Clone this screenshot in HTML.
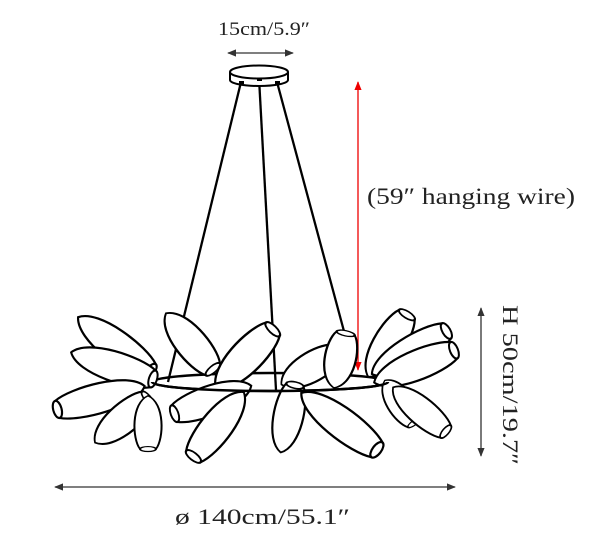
<!DOCTYPE html>
<html><head><style>
html,body{margin:0;padding:0;background:#fff;}
svg{display:block;}
text{font-family:"Liberation Serif",serif;fill:#222;}
</style></head><body>
<svg width="600" height="539" viewBox="0 0 600 539" xmlns="http://www.w3.org/2000/svg">
<defs>
<marker id="ab" viewBox="0 0 10 10" refX="9" refY="5" markerWidth="7" markerHeight="7" orient="auto-start-reverse"><path d="M0,1 L10,5 L0,9 Z" fill="#333"/></marker>
<marker id="ar" viewBox="0 0 10 10" refX="9" refY="5" markerWidth="7" markerHeight="7" orient="auto-start-reverse"><path d="M0,1 L10,5 L0,9 Z" fill="#e00"/></marker>
<g id="leaf" fill="#fff" stroke="#000" stroke-width="2">
<path d="M-44,0 C-32,-17 25,-16 42,-8 L42,8 C25,16 -32,17 -44,0 Z"/>
<ellipse cx="42" cy="0" rx="4" ry="8"/>
</g>
</defs>
<text x="218" y="35" font-size="19" textLength="92" lengthAdjust="spacingAndGlyphs">15cm/5.9″</text>
<line x1="228" y1="53" x2="293" y2="53" stroke="#333" stroke-width="1.3" marker-start="url(#ab)" marker-end="url(#ab)"/>
<g stroke="#000" stroke-width="2.3" fill="none">
<line x1="241" y1="82" x2="168" y2="382"/>
<line x1="259" y1="78" x2="276" y2="390"/>
<line x1="277" y1="82" x2="345" y2="335"/>
</g>
<g stroke="#000" stroke-width="2" fill="#fff">
<path d="M230,72 L230,80 A29,6 0 0 0 288,80 L288,72"/>
<ellipse cx="259" cy="72" rx="29" ry="6.5"/>
</g>
<g fill="#000"><rect x="239" y="81" width="5" height="3"/><rect x="257" y="78" width="5" height="3"/><rect x="275" y="81" width="5" height="3"/></g>
<line x1="358" y1="82" x2="358" y2="370" stroke="#e00" stroke-width="1.3" marker-start="url(#ar)" marker-end="url(#ar)"/>
<text x="367" y="204" font-size="23" textLength="208" lengthAdjust="spacingAndGlyphs">(59″ hanging wire)</text>
<ellipse cx="270" cy="382" rx="118" ry="9" fill="none" stroke="#000" stroke-width="2.5"/>
<use href="#leaf" transform="translate(115,345) rotate(37) scale(1.05,1.15)"/>
<use href="#leaf" transform="translate(113,366) rotate(18) scale(1,1.1)"/>
<use href="#leaf" transform="translate(190,342) rotate(50) scale(0.85,1.15)"/>
<use href="#leaf" transform="translate(310,368) rotate(-30) scale(0.75,1.1)"/>
<use href="#leaf" transform="translate(388,345) rotate(-58) scale(0.85,1.15)"/>
<use href="#leaf" transform="translate(410,352) rotate(-30) scale(1,1.1)"/>
<use href="#leaf" transform="translate(415,366) rotate(-22) scale(1,1.1)"/>
<use href="#leaf" transform="translate(100,398) rotate(165) scale(1.05,1.1)"/>
<use href="#leaf" transform="translate(122,420) rotate(-40) scale(0.8,1.1)"/>
<use href="#leaf" transform="translate(148,423) rotate(90) scale(0.62,1)"/>
<use href="#leaf" transform="translate(245,358) rotate(-46) scale(0.95,1.2)"/>
<use href="#leaf" transform="translate(212,400) rotate(160) scale(0.95,1.1)"/>
<use href="#leaf" transform="translate(218,425) rotate(128) scale(0.95,1.15)"/>
<use href="#leaf" transform="translate(288,418) rotate(-78) scale(0.8,1.1)"/>
<use href="#leaf" transform="translate(340,422) rotate(37) scale(1.1,1.15)"/>
<use href="#leaf" transform="translate(340,360) rotate(-78) scale(0.65,1.15)"/>
<use href="#leaf" transform="translate(400,402) rotate(55) scale(0.6,1)"/>
<use href="#leaf" transform="translate(420,410) rotate(40) scale(0.8,1)"/>
<path d="M152,382 A118,9 0 0 0 388,382" fill="none" stroke="#000" stroke-width="2.5"/>
<line x1="481" y1="308" x2="481" y2="456" stroke="#333" stroke-width="1.3" marker-start="url(#ab)" marker-end="url(#ab)"/>
<text transform="translate(503,305) rotate(90)" font-size="22" textLength="160" lengthAdjust="spacingAndGlyphs">H 50cm/19.7″</text>
<line x1="55" y1="487" x2="455" y2="487" stroke="#333" stroke-width="1.3" marker-start="url(#ab)" marker-end="url(#ab)"/>
<text x="175" y="524" font-size="22" textLength="175" lengthAdjust="spacingAndGlyphs">ø 140cm/55.1″</text>
</svg>
</body></html>
